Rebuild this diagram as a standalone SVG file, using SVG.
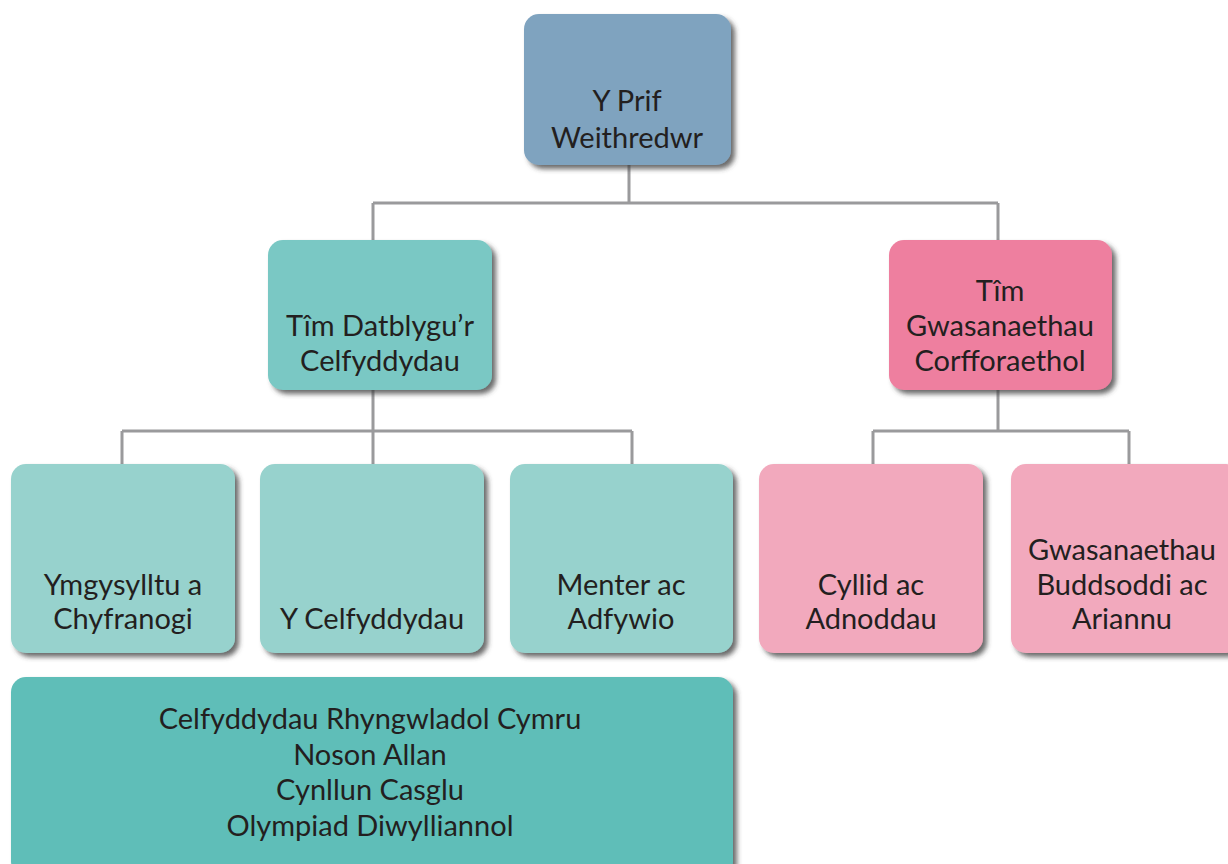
<svg xmlns="http://www.w3.org/2000/svg" width="1228" height="864" viewBox="0 0 1228 864">
<defs>
<filter id="sh" x="-10%" y="-10%" width="130%" height="130%">
<feDropShadow dx="4" dy="4" stdDeviation="2.5" flood-color="#3a3a3a" flood-opacity="0.75"/>
</filter>
<style>
.box{filter:url(#sh);}
text{font-family:Lato,"Noto Sans","Liberation Sans",sans-serif;font-size:29px;font-weight:400;fill:#231f20;text-anchor:middle;}
.c{fill:none;stroke:#9a9a9c;stroke-width:3;}
</style>
</defs>
<rect width="1228" height="864" fill="#ffffff"/>
<g id="connectors">
<path class="c" d="M629 165V203M373 203H998M373 203V240M998 203V240"/>
<path class="c" d="M373 390V431M122 431H632M122 431V464M373 431V464M632 431V464"/>
<path class="c" d="M998 390V431M873 431H1129M873 431V464M1129 431V464"/>
</g>
<g id="n-prif">
<rect class="box" x="524" y="14" width="207" height="151" rx="15" fill="#7fa3bf"/>
<text x="627" y="111">Y Prif</text>
<text x="627" y="148">Weithredwr</text>
</g>
<g id="n-datblygu">
<rect class="box" x="268" y="240" width="224" height="150" rx="15" fill="#7ac8c4"/>
<text x="380" y="336">Tîm Datblygu’r</text>
<text x="380" y="371">Celfyddydau</text>
</g>
<g id="n-gwasanaethau">
<rect class="box" x="889" y="240" width="223" height="150" rx="15" fill="#ee7f9f"/>
<text x="1000" y="301">Tîm</text>
<text x="1000" y="336">Gwasanaethau</text>
<text x="1000" y="371">Corfforaethol</text>
</g>
<g id="n-ymgysylltu">
<rect class="box" x="11" y="464" width="224" height="189" rx="15" fill="#97d2cd"/>
<text x="123" y="595">Ymgysylltu a</text>
<text x="123" y="629">Chyfranogi</text>
</g>
<g id="n-celfyddydau">
<rect class="box" x="260" y="464" width="224" height="189" rx="15" fill="#97d2cd"/>
<text x="372" y="629">Y Celfyddydau</text>
</g>
<g id="n-menter">
<rect class="box" x="510" y="464" width="223" height="189" rx="15" fill="#97d2cd"/>
<text x="621" y="595">Menter ac</text>
<text x="621" y="629">Adfywio</text>
</g>
<g id="n-cyllid">
<rect class="box" x="759" y="464" width="224" height="189" rx="15" fill="#f2a9bd"/>
<text x="871" y="595">Cyllid ac</text>
<text x="871" y="629">Adnoddau</text>
</g>
<g id="n-buddsoddi">
<rect class="box" x="1011" y="464" width="230" height="189" rx="15" fill="#f2a9bd"/>
<text x="1122" y="560">Gwasanaethau</text>
<text x="1122" y="595">Buddsoddi ac</text>
<text x="1122" y="629">Ariannu</text>
</g>
<g id="n-rhaglenni">
<rect class="box" x="11" y="677" width="722" height="200" rx="15" fill="#5fbeb8"/>
<text x="370" y="729">Celfyddydau Rhyngwladol Cymru</text>
<text x="370" y="765">Noson Allan</text>
<text x="370" y="800">Cynllun Casglu</text>
<text x="370" y="836">Olympiad Diwylliannol</text>
</g>
</svg>
